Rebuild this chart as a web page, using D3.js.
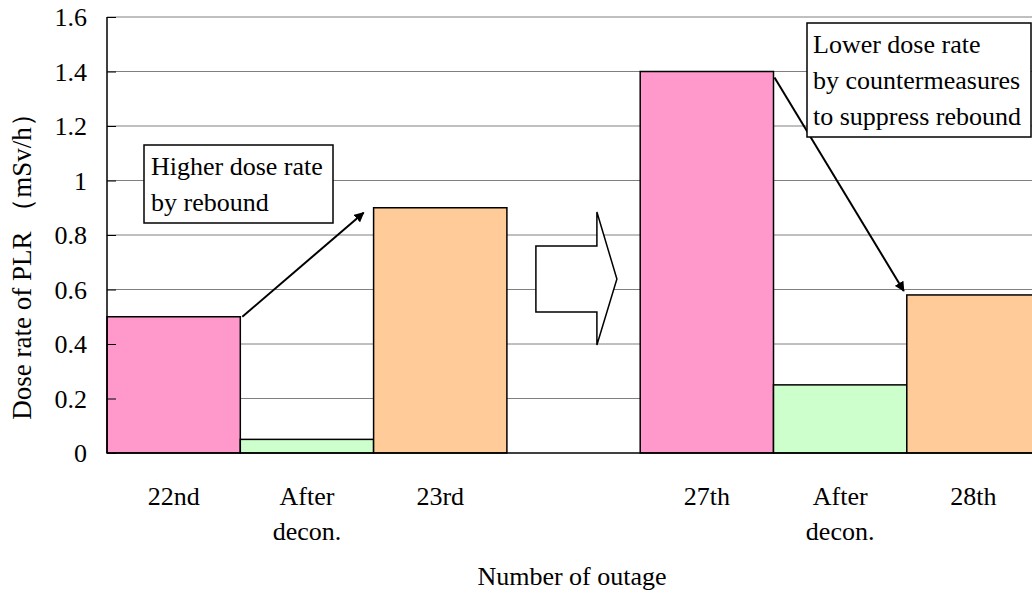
<!DOCTYPE html>
<html>
<head>
<meta charset="utf-8">
<script src="https://cdn.jsdelivr.net/npm/d3@7/dist/d3.min.js"></script>
<style>
  body { margin: 0; background: #fff; }
  text { font-family: "Liberation Serif", "DejaVu Serif", "Times New Roman", serif; fill: #000; }
</style>
</head>
<body>
<div id="chart"></div>
<script>
(function( ) {
"use strict";

/* data */
var categories = [ "22nd", "After decon.", "23rd", "", "27th", "After decon.", "28th" ],
    catLines   = [ ["22nd"], ["After", "decon."], ["23rd"], [], ["27th"], ["After", "decon."], ["28th"] ],
    values     = [ 0.5, 0.05, 0.9, null, 1.4, 0.25, 0.58 ],
    colors     = [ "#ff99cc", "#ccffcc", "#ffcc99", null, "#ff99cc", "#ccffcc", "#ffcc99" ],
    yTicks     = [ 0, 0.2, 0.4, 0.6, 0.8, 1, 1.2, 1.4, 1.6 ],
    note1      = [ "Higher dose rate", "by rebound" ],
    note2      = [ "Lower dose rate", "by countermeasures", "to suppress rebound" ];

var W = 1032, H = 600,
    left = 107, top = 17, bottom = 453,
    fs = 26;

var svg = d3.select("#chart").append("svg")
    .attr("width", W).attr("height", H);

svg.append("defs").append("marker")
    .attr("id", "ah")
    .attr("viewBox", "0 0 10 10")
    .attr("refX", 9).attr("refY", 5)
    .attr("markerWidth", 5).attr("markerHeight", 5)
    .attr("markerUnits", "strokeWidth")
    .attr("orient", "auto")
  .append("path").attr("d", "M0,0 L10,5 L0,10 Z").attr("fill", "#000");

var x = d3.scaleBand().domain(d3.range(categories.length)).range([left, left + 7 * 133.3]).padding(0),
    y = d3.scaleLinear().domain([0, 1.6]).range([bottom, top]);

/* gridlines */
svg.append("g").selectAll("line").data(yTicks.slice(1)).join("line")
    .attr("x1", left).attr("x2", W)
    .attr("y1", function(d){ return y(d); }).attr("y2", function(d){ return y(d); })
    .attr("stroke", "#808080").attr("stroke-width", 1);

/* bars */
var data = values.map(function(v, i){ return { i: i, v: v, c: colors[i] }; })
                 .filter(function(d){ return d.v !== null; });

svg.append("g").selectAll("rect").data(data).join("rect")
    .attr("x", function(d){ return x(d.i); })
    .attr("y", function(d){ return y(d.v); })
    .attr("width", x.bandwidth())
    .attr("height", function(d){ return y(0) - y(d.v); })
    .attr("fill", function(d){ return d.c; })
    .attr("stroke", "#000").attr("stroke-width", 1.5);

/* y axis: ticks inside */
var yAxis = svg.append("g").attr("transform", "translate(" + left + ",0)")
    .call(d3.axisRight(y).tickValues(yTicks).tickSize(9).tickFormat(""));
yAxis.select(".domain").remove();
yAxis.selectAll("line").attr("stroke", "#000");
svg.append("line").attr("x1", left).attr("x2", left).attr("y1", top).attr("y2", bottom)
    .attr("stroke", "#000").attr("stroke-width", 1.5);
svg.append("line").attr("x1", left).attr("x2", W).attr("y1", bottom).attr("y2", bottom)
    .attr("stroke", "#000").attr("stroke-width", 1.5);

/* text, a little taller than wide like the original */
var _txt = function( sel ){
    return sel.attr("font-family", "'Liberation Serif', 'DejaVu Serif', serif").attr("font-size", fs);
};

svg.append("g").selectAll("text").data(yTicks).join("text")
    .attr("x", 87).attr("y", function(d){ return y(d) + 9; })
    .attr("text-anchor", "end").call(_txt)
    .text(function(d){ return d3.format("")(d); });

/* category labels */
var cl = svg.append("g").selectAll("text").data(catLines).join("text")
    .attr("text-anchor", "middle").call(_txt);
cl.each(function(lines, i){
    d3.select(this).selectAll("tspan").data(lines).join("tspan")
        .attr("x", x(i) + x.bandwidth() / 2)
        .attr("y", function(d, j){ return 505 + j * 35; })
        .text(function(d){ return d; });
});

/* axis titles */
svg.append("text").attr("x", 572).attr("y", 585).attr("text-anchor", "middle")
    .call(_txt).text("Number of outage");
svg.append("text").attr("transform", "translate(31,260) rotate(-90)")
    .attr("text-anchor", "middle").call(_txt).attr("font-size", 27)
    .text("Dose rate of PLR （mSv/h）");

/* block arrow in the empty slot */
var bx = x(3);
svg.append("path")
    .attr("d", "M" + (bx + 29) + ",246 L" + (bx + 90) + ",246 L" + (bx + 90) + ",212 L" + (bx + 110) + ",279 L" +
               (bx + 90) + ",345 L" + (bx + 90) + ",312 L" + (bx + 29) + ",312 Z")
    .attr("fill", "#fff").attr("stroke", "#000").attr("stroke-width", 1.5);

/* arrows */
svg.append("line")
    .attr("x1", x(0) + x.bandwidth() + 2).attr("y1", y(values[0]))
    .attr("x2", x(2) - 10).attr("y2", y(values[2]) + 5)
    .attr("stroke", "#000").attr("stroke-width", 2).attr("marker-end", "url(#ah)");
svg.append("line")
    .attr("x1", x(4) + x.bandwidth() + 1).attr("y1", y(values[4]) + 6)
    .attr("x2", x(6) - 3).attr("y2", y(values[6]) - 4)
    .attr("stroke", "#000").attr("stroke-width", 2).attr("marker-end", "url(#ah)");

/* note boxes */
var _note = function( lines, bx0, by0, bw, bh, tx, ty0, lh ){
    var g = svg.append("g");
    g.append("rect").attr("x", bx0).attr("y", by0).attr("width", bw).attr("height", bh)
        .attr("fill", "#fff").attr("stroke", "#000").attr("stroke-width", 1.5);
    g.selectAll("text").data(lines).join("text")
        .attr("x", tx).attr("y", function(d, j){ return ty0 + j * lh; })
        .call(_txt).text(function(d){ return d; });
};
_note(note1, 144, 145, 189, 78, 151, 175, 36);
_note(note2, 807, 23, 224, 114, 813, 53, 36);

})( );
</script>
</body>
</html>
